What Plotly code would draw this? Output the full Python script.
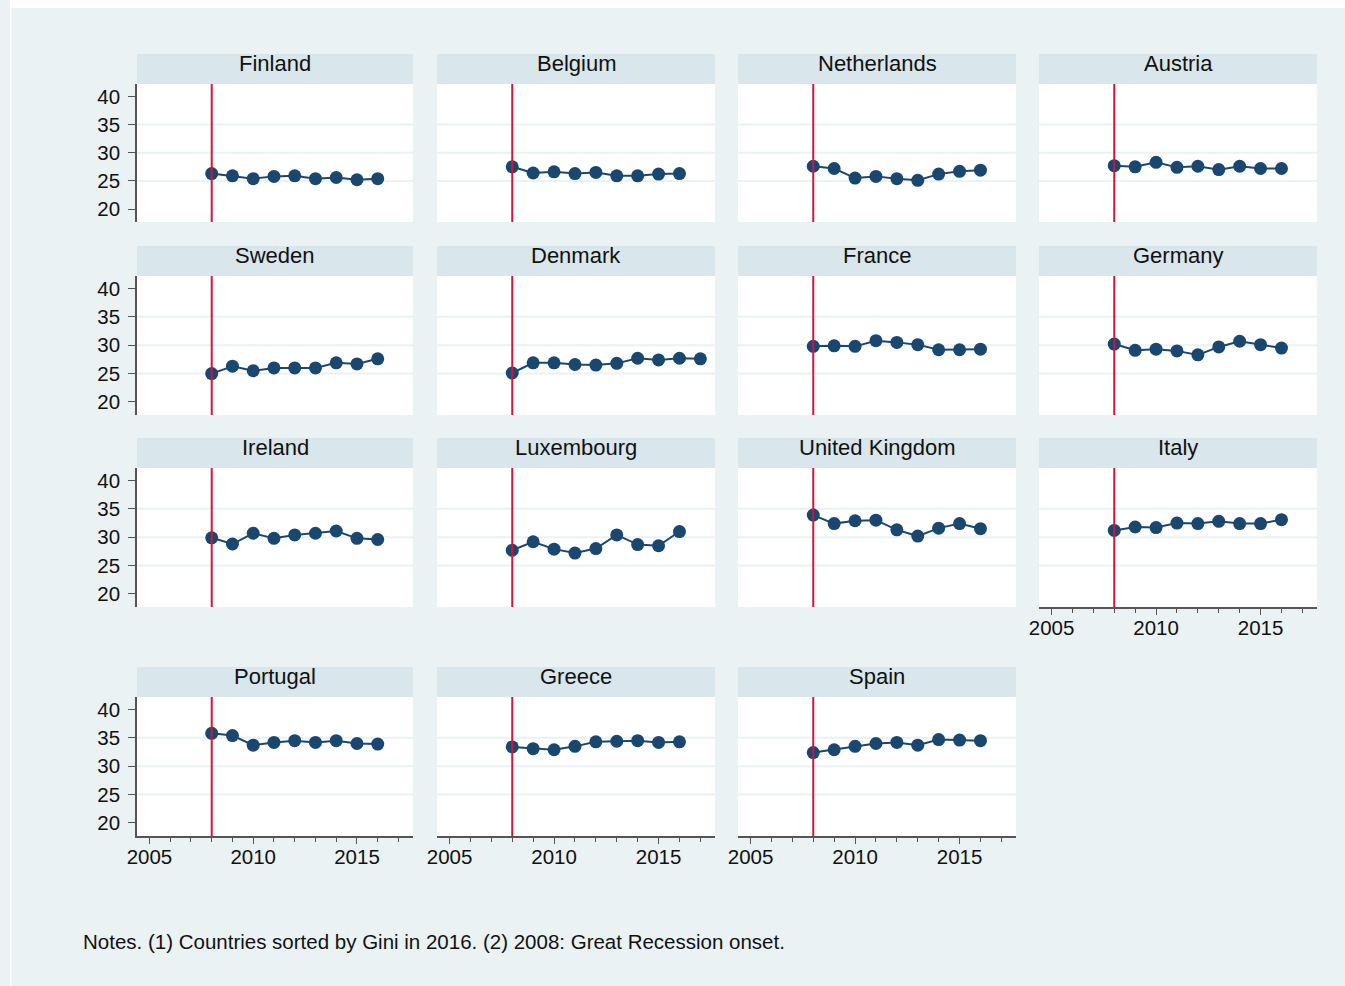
import plotly.graph_objects as go

# Gini index by country, 2008 onwards (countries sorted by Gini in 2016)
countries = ["Finland", "Belgium", "Netherlands", "Austria",
             "Sweden", "Denmark", "France", "Germany",
             "Ireland", "Luxembourg", "United Kingdom", "Italy",
             "Portugal", "Greece", "Spain"]

years = [2008, 2009, 2010, 2011, 2012, 2013, 2014, 2015, 2016]
years_denmark = [2008, 2009, 2010, 2011, 2012, 2013, 2014, 2015, 2016, 2017]

gini_finland = [26.3, 25.9, 25.4, 25.8, 25.9, 25.4, 25.6, 25.2, 25.4]
gini_belgium = [27.5, 26.4, 26.6, 26.3, 26.5, 25.9, 25.9, 26.2, 26.3]
gini_netherlands = [27.6, 27.2, 25.5, 25.8, 25.4, 25.1, 26.2, 26.7, 26.9]
gini_austria = [27.7, 27.5, 28.3, 27.4, 27.6, 27.0, 27.6, 27.2, 27.2]
gini_sweden = [25.0, 26.3, 25.5, 26.0, 26.0, 26.0, 26.9, 26.7, 27.6]
gini_denmark = [25.1, 26.9, 26.9, 26.6, 26.5, 26.8, 27.7, 27.4, 27.7, 27.6]
gini_france = [29.8, 29.9, 29.8, 30.8, 30.5, 30.1, 29.2, 29.2, 29.3]
gini_germany = [30.2, 29.1, 29.3, 29.0, 28.3, 29.7, 30.7, 30.1, 29.5]
gini_ireland = [29.9, 28.8, 30.7, 29.8, 30.4, 30.7, 31.1, 29.8, 29.6]
gini_luxembourg = [27.7, 29.2, 27.9, 27.2, 28.0, 30.4, 28.7, 28.5, 31.0]
gini_uk = [33.9, 32.4, 32.9, 33.0, 31.3, 30.2, 31.6, 32.4, 31.5]
gini_italy = [31.2, 31.8, 31.7, 32.5, 32.4, 32.8, 32.4, 32.4, 33.1]
gini_portugal = [35.8, 35.4, 33.7, 34.2, 34.5, 34.2, 34.5, 34.0, 33.9]
gini_greece = [33.4, 33.1, 32.9, 33.5, 34.3, 34.4, 34.5, 34.2, 34.3]
gini_spain = [32.4, 32.9, 33.5, 34.0, 34.2, 33.7, 34.7, 34.6, 34.5]

series = [
    (years, gini_finland), (years, gini_belgium), (years, gini_netherlands), (years, gini_austria),
    (years, gini_sweden), (years_denmark, gini_denmark), (years, gini_france), (years, gini_germany),
    (years, gini_ireland), (years, gini_luxembourg), (years, gini_uk), (years, gini_italy),
    (years, gini_portugal), (years, gini_greece), (years, gini_spain),
]

y_ticks = [20, 25, 30, 35, 40]
y_grid = [25, 30, 35]
x_ticks = [2005, 2010, 2015]
recession_year = 2008
note_text = "Notes. (1) Countries sorted by Gini in 2016. (2) 2008: Great Recession onset."

# Page geometry (pixels)
W, H = 1345, 986
X_OFF, X_SPAN = 10, 1335  # horizontal extent the figure occupies on the page


def fx(px):
    """Horizontal page pixel -> paper fraction."""
    return (px - X_OFF) / X_SPAN


def fy(px):
    """Vertical page pixel -> paper fraction."""
    return 1 - px / H


COL_X = [(137, 413), (437, 715), (738, 1016), (1039, 1317)]
ROW_Y = [(84, 222), (276, 415), (468, 607), (697, 836)]
STRIP_H = 30
X_RANGE = [2004.4, 2017.7]
Y_RANGE = [17.7, 42.2]

NAVY = "#1a476f"
RED = "#d1163c"
BG = "#eaf2f3"
STRIP = "#d9e6eb"
GRID = "#eaf2f3"
AXIS = "#555555"
TEXT = "#111111"
FONT = "Liberation Sans, Arial, sans-serif"
TICK_SIZE = 20.5

# Panel positions: 4x4 grid, last cell empty
positions = [(r, c) for r in range(4) for c in range(4)][:15]
bottom_panels = {11, 12, 13, 14}
left_panels = {0, 4, 8, 12}

fig = go.Figure()
layout = dict(
    width=W, height=H,
    margin=dict(l=0, r=0, t=0, b=0),
    paper_bgcolor=BG,
    plot_bgcolor="white",
    showlegend=False,
    font=dict(family=FONT, color=TEXT),
)
shapes = [
    # white bands along the top and left edges
    dict(type="rect", xref="paper", yref="paper", layer="below",
         x0=0, x1=1, y0=fy(8), y1=1,
         fillcolor="white", line=dict(width=0)),
    dict(type="rect", xref="paper", yref="paper", layer="below",
         x0=0, x1=1.5 / W, y0=0, y1=1,
         fillcolor="white", line=dict(width=0)),
]
annotations = []

for i, (name, (r, c), (xs, ys)) in enumerate(zip(countries, positions, series)):
    n = "" if i == 0 else str(i + 1)
    xa, ya = "x" + n, "y" + n
    x0p, x1p = COL_X[c]
    y0p, y1p = ROW_Y[r]
    plot_h = y1p - y0p

    is_bottom = i in bottom_panels
    is_left = i in left_panels

    layout["xaxis" + n] = dict(
        domain=[fx(x0p), fx(x1p)], anchor=ya, range=X_RANGE,
        showgrid=False, zeroline=False, fixedrange=True,
        showline=is_bottom, linecolor=AXIS, linewidth=1.5,
        tickmode="array", tickvals=x_ticks if is_bottom else [],
        ticks="outside" if is_bottom else "", ticklen=6, tickwidth=1.2, tickcolor=AXIS,
        showticklabels=is_bottom, tickfont=dict(size=TICK_SIZE, color=TEXT),
        ticklabelstandoff=-4,
        minor=dict(ticks="outside" if is_bottom else "", dtick=1, tick0=2005,
                   ticklen=4, tickwidth=1, tickcolor=AXIS, showgrid=False),
    )
    layout["yaxis" + n] = dict(
        domain=[fy(y1p), fy(y0p)], anchor=xa, range=Y_RANGE,
        showgrid=False, zeroline=False, fixedrange=True,
        showline=is_left, linecolor=AXIS, linewidth=1.5,
        tickmode="array", tickvals=y_ticks if is_left else [],
        ticks="outside" if is_left else "", ticklen=7, tickwidth=1.2, tickcolor=AXIS,
        showticklabels=is_left, tickfont=dict(size=TICK_SIZE, color=TEXT),
        ticklabelstandoff=4,
    )

    # light horizontal grid lines
    for g in y_grid:
        shapes.append(dict(type="line", xref=xa + " domain", yref=ya, layer="below",
                           x0=0, x1=1, y0=g, y1=g, line=dict(color=GRID, width=2)))
    # recession onset marker
    shapes.append(dict(type="line", xref=xa, yref=ya + " domain", layer="above",
                       x0=recession_year, x1=recession_year, y0=0, y1=1,
                       line=dict(color=RED, width=2)))
    # title strip
    strip_top = 1 + STRIP_H / plot_h
    shapes.append(dict(type="rect", xref=xa + " domain", yref=ya + " domain", layer="below",
                       x0=0, x1=1, y0=1, y1=strip_top,
                       fillcolor=STRIP, line=dict(width=0)))
    annotations.append(dict(text=name, xref=xa + " domain", yref=ya + " domain",
                            x=0.5, y=1 + (STRIP_H / 2 + 6) / plot_h,
                            xanchor="center", yanchor="middle", showarrow=False,
                            font=dict(size=22, color=TEXT, family=FONT)))

    fig.add_trace(go.Scatter(
        x=xs, y=ys, xaxis=xa, yaxis=ya, mode="lines+markers",
        line=dict(color=NAVY, width=2),
        marker=dict(color=NAVY, size=13),
        cliponaxis=False, hoverinfo="x+y",
    ))

annotations.append(dict(text=note_text, xref="paper", yref="paper",
                        x=fx(81), y=fy(941), xanchor="left", yanchor="middle",
                        showarrow=False, font=dict(size=20.5, color=TEXT, family=FONT)))

layout["shapes"] = shapes
layout["annotations"] = annotations
fig.update_layout(**layout)
fig.write_html("out.html")
